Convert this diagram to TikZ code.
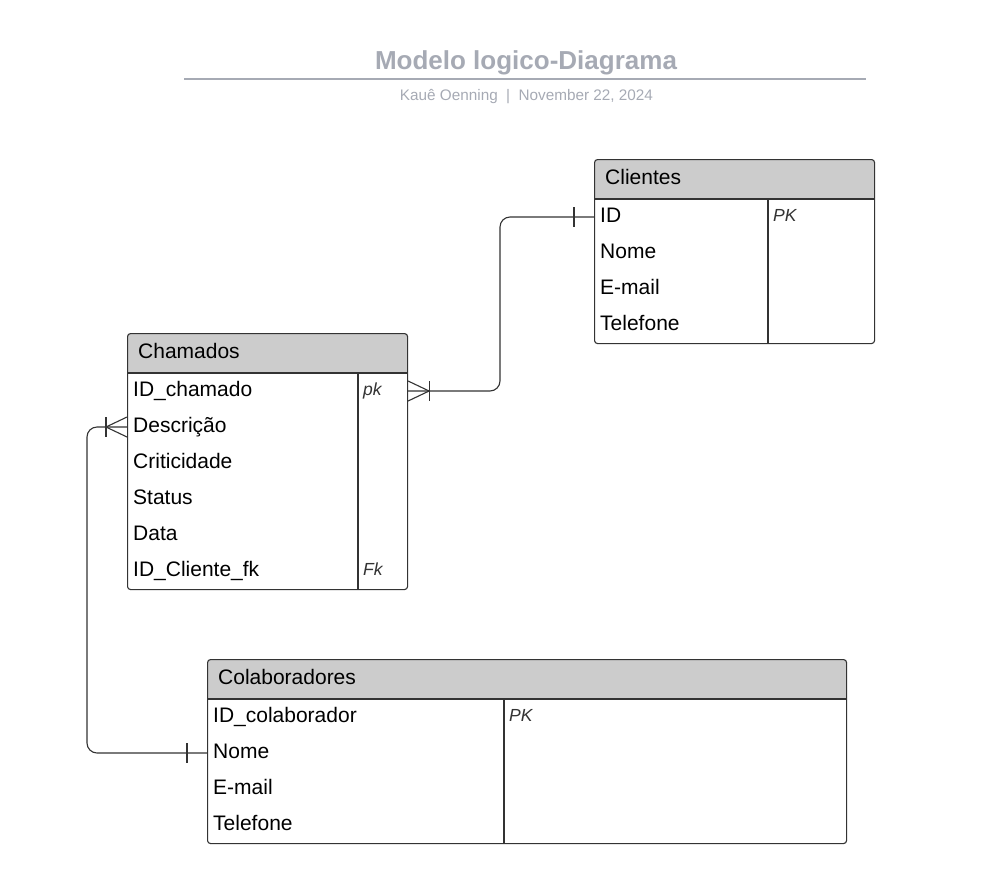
\documentclass[tikz,border=0pt]{standalone}
\usepackage{fontspec}
\setmainfont{Liberation Sans}
\definecolor{titlegray}{RGB}{166,170,180}
\definecolor{headgray}{RGB}{204,204,204}
\definecolor{linegray}{RGB}{51,51,51}

\begin{document}
\begin{tikzpicture}[x=1pt, y=-1pt]
  \tikzset{
    entity/.style={
      rectangle,
      rounded corners=3pt,
      draw=linegray, line width=1.1pt,
      fill=white,
      anchor=north west,
      inner sep=0,
      path picture={
        \fill[headgray] (path picture bounding box.north west) rectangle
          ([yshift=-40pt]path picture bounding box.north east);
      },
    },
    headtext/.style={
      anchor=west,
      inner xsep=11pt, inner ysep=0pt,
      text height=15pt, text depth=5pt,
      font=\fontsize{21}{25}\selectfont,
    },
    field/.style={
      anchor=west,
      inner xsep=6pt, inner ysep=0pt,
      text height=15pt, text depth=5pt,
      font=\fontsize{21}{25}\selectfont,
    },
    keyfield/.style={
      anchor=west,
      inner xsep=5pt, inner ysep=0pt,
      text height=12pt, text depth=3.5pt,
      text=linegray,
      font=\itshape\fontsize{17.5}{21}\selectfont,
    },
    divider/.style={draw=linegray, line width=1.1pt},
    relation/.style={draw=linegray, line width=1.1pt},
  }

  \useasboundingbox (0,0) rectangle (990,884);

  % title block
  \node[font=\bfseries\fontsize{26}{31}\selectfont,
    text=titlegray,
    anchor=base] (diagram-title) at (526,69) {Modelo logico-Diagrama};
  \draw[titlegray, line width=2pt] (184,79) -- (866,79);
  \node[font=\fontsize{15.3}{18}\selectfont,
    text=titlegray,
    anchor=base] (diagram-info) at (526.5,100)
    {Kauê Oenning\hspace{0.55em}|\hspace{0.55em}November 22, 2024};

  % Clientes
  \node[entity, minimum width=280, minimum height=184] (clientes) at (594,159) {};
  \node[headtext] (clientes-head) at (594,179) {Clientes};
  \foreach \fld [count=\i] in {ID, Nome, E-mail, Telefone}
    \node[field] (clientes-\i) at (594,181+36*\i) {\fld};
  \node[keyfield] (clientes-pk) at (768,217) {PK};
  \draw[divider] (594,199) -- (874,199);
  \draw[divider] (768,199) -- (768,343);

  % Chamados
  \node[entity, minimum width=280, minimum height=256] (chamados) at (127,333) {};
  \node[headtext] (chamados-head) at (127,353) {Chamados};
  \foreach \fld [count=\i] in {ID\_chamado, Descrição, Criticidade, Status, Data, ID\_Cliente\_fk}
    \node[field] (chamados-\i) at (127,355+36*\i) {\fld};
  \node[keyfield] (chamados-pk) at (358,391) {pk};
  \node[keyfield] (chamados-fk) at (358,571) {Fk};
  \draw[divider] (127,373) -- (407,373);
  \draw[divider] (358,373) -- (358,589);

  % Colaboradores
  \node[entity, minimum width=639, minimum height=184] (colaboradores) at (207,659) {};
  \node[headtext] (colaboradores-head) at (207,679) {Colaboradores};
  \foreach \fld [count=\i] in {ID\_colaborador, Nome, E-mail, Telefone}
    \node[field] (colaboradores-\i) at (207,681+36*\i) {\fld};
  \node[keyfield] (colaboradores-pk) at (504,717) {PK};
  \draw[divider] (207,699) -- (846,699);
  \draw[divider] (504,699) -- (504,843);

  % relations
  \coordinate (cli-end) at (chamados.east |- chamados-1);
  \coordinate (col-end) at (chamados.west |- chamados-2);

  \draw[relation, rounded corners=10pt]
    (clientes-1.west) -| (500,300) |- (cli-end);
  \draw[relation] ([xshift=-20pt, yshift=10pt]clientes-1.west) -- ++(0,20);
  \draw[relation] ([yshift=10pt]cli-end) -- ++(21,10) -- ++(-21,10);
  \draw[relation] ([xshift=21pt, yshift=10pt]cli-end) -- ++(0,20);

  \draw[relation, rounded corners=10pt]
    (col-end) -| (87,600) |- (colaboradores-2.west);
  \draw[relation] ([yshift=10pt]col-end) -- ++(-21,10) -- ++(21,10);
  \draw[relation] ([xshift=-21pt, yshift=10pt]col-end) -- ++(0,20);
  \draw[relation] ([xshift=-20pt, yshift=10pt]colaboradores-2.west) -- ++(0,20);

\end{tikzpicture}
\end{document}
